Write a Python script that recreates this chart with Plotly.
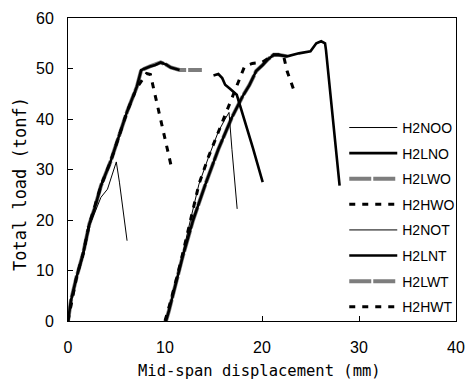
import plotly.graph_objects as go

# ---- data ----
# group O: specimens loaded from x = 0
h2noo_x = [0, 0.3, 0.9, 1.6, 2.2, 2.8, 3.4, 4.07, 4.6, 4.98, 5.3, 5.76, 6.09]
h2noo_y = [0, 3.5, 8.5, 13.0, 18.8, 21.8, 24.5, 26.1, 29.0, 31.5, 27.5, 20.9, 15.9]

h2lno_x = [0, 0.3, 0.88, 1.55, 2.2, 2.73, 3.4, 4.41, 5.08, 6.1, 7.1, 7.55, 8.45, 9.0, 9.56, 10.1, 10.6, 11.5,
           None, 15.0, 15.5, 15.9, 16.2, 16.7, 17.4, 19.06, 20.07]
h2lno_y = [0, 4.0, 8.7, 13.3, 19.2, 22.2, 26.8, 31.7, 35.6, 41.5, 46.4, 49.7, 50.4, 50.7, 51.2, 50.8, 50.2, 49.7,
           None, 48.6, 48.9, 48.1, 46.8, 46.0, 44.8, 34.3, 27.5]

h2lwo_x = [0, 0.3, 0.88, 1.55, 2.2, 2.73, 3.4, 4.41, 5.08, 6.1, 7.1, 7.55, 8.45, 9.0, 9.56, 10.1, 10.6, 11.5, 12.5, 13.8]
h2lwo_y = [0, 4.0, 8.7, 13.3, 19.2, 22.2, 26.8, 31.7, 35.6, 41.5, 46.4, 49.7, 50.4, 50.7, 51.2, 50.8, 50.2, 49.7, 49.7, 49.7]

h2hwo_x = [0, 0.88, 1.55, 2.2, 3.4, 4.41, 5.08, 6.1, 7.1, 7.7, 8.1, 8.5, 10.6]
h2hwo_y = [0, 8.7, 13.3, 19.2, 26.8, 31.7, 35.6, 41.5, 46.2, 48.0, 49.0, 48.8, 31.0]

# group T: specimens plotted from x = 10
h2not_x = [10.1, 10.5, 11.5, 12.5, 13.5, 14.5, 15.5, 16.2, 16.6, 16.9, 17.44]
h2not_y = [0, 3.0, 10.5, 19.0, 27.1, 32.5, 37.5, 40.0, 41.3, 34.0, 22.2]

h2lnt_x = [10.1, 10.4, 11.8, 12.9, 14.17, 15.5, 16.87, 18.0, 18.7, 19.4, 20.07, 20.6, 21.2, 21.7, 22.6,
           23.8, 25.0, 25.6, 26.1, 26.5, 26.6, 28.0]
h2lnt_y = [0, 2.0, 12.6, 20.0, 27.1, 34.0, 40.2, 44.5, 46.7, 49.5, 50.7, 51.8, 52.7, 52.7, 52.4,
           53.0, 53.4, 55.0, 55.4, 55.0, 53.6, 26.8]

h2lwt_x = [10.1, 10.4, 11.8, 12.9, 14.17, 15.5, 16.87, 18.0, 18.7, 19.4, 20.07, 20.6, 21.2, 21.7, 22.6]
h2lwt_y = [0, 2.0, 12.6, 20.0, 27.1, 34.0, 40.2, 44.5, 46.7, 49.5, 50.7, 51.8, 52.7, 52.7, 52.4]

h2hwt_x = [10.0, 10.6, 11.6, 12.6, 13.5, 14.5, 15.5, 16.5, 17.4, 18.2, 19.0, 20.0, 21.2, 22.2, 22.6, 23.4]
h2hwt_y = [0, 4.0, 11.5, 19.5, 27.1, 32.6, 37.5, 42.2, 46.5, 50.4, 51.0, 51.2, 52.7, 52.7, 49.4, 45.1]

x_ticks = [0, 10, 20, 30, 40]
y_ticks = [0, 10, 20, 30, 40, 50, 60]

# ---- styles ----
THIN = dict(color="black", width=1)
THICK = dict(color="black", width=2.6)
GRAY = dict(color="#7d7d7d", width=4, dash="22px,2px")
DASH = dict(color="black", width=3, dash="6px,7px")

series = [
    # (name, x, y, line, legend rank)  -- drawing order: gray first, then black
    ("H2LWO", h2lwo_x, h2lwo_y, GRAY, 3),
    ("H2LWT", h2lwt_x, h2lwt_y, GRAY, 7),
    ("H2HWO", h2hwo_x, h2hwo_y, DASH, 4),
    ("H2HWT", h2hwt_x, h2hwt_y, DASH, 8),
    ("H2NOO", h2noo_x, h2noo_y, THIN, 1),
    ("H2NOT", h2not_x, h2not_y, THIN, 5),
    ("H2LNO", h2lno_x, h2lno_y, THICK, 2),
    ("H2LNT", h2lnt_x, h2lnt_y, THICK, 6),
]

fig = go.Figure()
for name, xs, ys, ln, rank in series:
    fig.add_trace(go.Scatter(
        x=xs, y=ys, mode="lines", name=name, line=ln,
        legendgroup=name, legendrank=rank, connectgaps=False,
    ))

axis_common = dict(
    showgrid=False, zeroline=False, showline=True, linecolor="black", linewidth=1,
    mirror=True, ticks="inside", ticklen=5, tickcolor="black",
    tickfont=dict(family="Liberation Sans, Arial", size=16, color="black"),
)

fig.update_layout(
    width=475, height=389,
    margin=dict(l=68, r=10, t=16, b=68),
    paper_bgcolor="white", plot_bgcolor="white",
    xaxis=dict(range=[0, 40], tickvals=x_ticks, ticklabelstandoff=12, **axis_common),
    yaxis=dict(range=[0, 60], tickvals=y_ticks, ticklabelstandoff=10, **axis_common),
    showlegend=True,
    legend=dict(
        x=0.712, y=0.69, xanchor="left", yanchor="top",
        bgcolor="rgba(0,0,0,0)", borderwidth=0,
        font=dict(family="Liberation Sans, Arial", size=14, color="black"),
        itemwidth=48, traceorder="grouped", tracegroupgap=4.4,
    ),
    annotations=[
        dict(text="Mid-span displacement (mm)", xref="paper", yref="paper",
             x=0.4924, y=-0.164, xanchor="center", yanchor="middle", showarrow=False,
             font=dict(family="DejaVu Sans Mono", size=15.5, color="black")),
        dict(text="Total load (tonf)", xref="paper", yref="paper",
             x=-0.1234, y=0.4525, xanchor="center", yanchor="middle", showarrow=False,
             textangle=-90,
             font=dict(family="DejaVu Sans Mono", size=17, color="black")),
    ],
)

fig.write_html("out.html")
